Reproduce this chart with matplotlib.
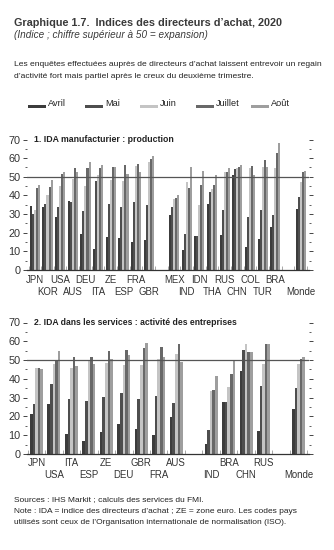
import matplotlib
matplotlib.use("Agg")
import matplotlib.pyplot as plt
from matplotlib.patches import Rectangle
from matplotlib.transforms import blended_transform_factory

plt.rcParams["font.family"] = ["Liberation Sans", "DejaVu Sans"]

months = ["Avril", "Mai", "Juin", "Juillet", "Août"]
colors = ["#3c3c3c", "#4e4e4e", "#c4c4c4", "#686868", "#9e9e9e"]

# panel 1 : manufacturing output (None = empty slot)
manuf_labels = ["JPN", "KOR", "USA", "AUS", "DEU", "ITA", "ZE", "ESP", "FRA", "GBR", None,
                "MEX", "IND", "IDN", "THA", "RUS", "CHN", "COL", "TUR", "BRA", None, "Monde"]
manuf_avr = [34.5, 34, 28.6, 37, 19.3, 11, 17.7, 17, 15, 16, None,
             29.5, 10.7, 18, 35.2, 18.6, 51, 12.5, 16.4, 23.2, None, 32.5]
manuf_mai = [30, 35.2, 34, 36.5, 31.5, 47.5, 35.2, 34, 36.3, 35, None,
             34, 19.3, 18.2, 42, 32, 54, 28.6, 32, 29.3, None, 39]
manuf_jun = [32, 40, 45, 49, 45, 51, 48.5, 48, 56, 58, None,
             38, 47, 35, 43.2, 52.5, 54.5, 54.5, 55.4, 54.5, None, 47]
manuf_jul = [44, 44.6, 51.5, 54.5, 54.5, 54.5, 55.3, 56.3, 57, 59.5, None,
             38.5, 43.8, 45.7, 45.5, 52.7, 55, 55.7, 59, 63, None, 52.5]
manuf_aou = [45.5, 48.2, 52.7, 52.5, 57.9, 56.3, 55.5, 51.4, 52.7, 61, None,
             40, 55.4, 53.2, 50.7, 54.5, 56.1, 51.2, 55.4, 68.2, None, 53.2]

# panel 2 : services business activity
serv_labels = ["JPN", "USA", "ITA", "ESP", "ZE", "DEU", "GBR", "FRA", "AUS", None,
               "IND", "BRA", "CHN", "RUS", None, "Monde"]
serv_avr = [21.3, 26.6, 10.6, 6.9, 11.9, 16, 13.3, 10.1, 19.5, None, 5.3, 27.5, 44.3, 12.2, None, 23.8]
serv_mai = [26.4, 37.4, 29.1, 28, 30.5, 32.4, 29.1, 31, 27, None, 12.8, 27.5, 55.3, 36.2, None, 35.1]
serv_jun = [45.6, 47.7, 45.6, 49.6, 48.2, 47.3, 47.3, 50.5, 53.2, None, 33.7, 35.8, 58.5, 47.9, None, 47.9]
serv_jul = [45.6, 50, 51.4, 51.8, 54.8, 55.3, 56.6, 57.1, 58.3, None, 34, 42.6, 54.1, 58.5, None, 50.4]
serv_aou = [45.2, 55, 46.8, 47.7, 50.4, 52.7, 58.9, 51.8, 49.1, None, 41.7, 49.5, 54.1, 58.3, None, 51.8]

W, H = 334, 550
fig = plt.figure(figsize=(W / 100, H / 100), dpi=100)
renderer = fig.canvas.get_renderer()


def fy(y):
    return 1 - y / H


def ftxt(x, y, s, width=None, **kw):
    kw.setdefault("va", "center")
    t = fig.text(x / W, fy(y), s, **kw)
    if width:
        # set the font so the line spans the wanted pixel width
        w = t.get_window_extent(renderer).width
        t.set_fontsize(t.get_fontsize() * width / w)
    return t


ftxt(14, 23, "Graphique 1.7.  Indices des directeurs d\u2019achat, 2020", width=268,
     fontsize=9.6, fontweight="bold", color="#3a3a3a")
ftxt(14, 35, "(Indice ; chiffre supérieur à 50 = expansion)", width=192,
     fontsize=7.6, fontstyle="italic", color="#3a3a3a")
p1 = ftxt(14, 65, "Les enquêtes effectuées auprès de directeurs d\u2019achat laissent entrevoir un regain",
          width=306, fontsize=7.2, color="#222222")
ftxt(14, 76, "d\u2019activité fort mais partiel après le creux du deuxième trimestre.",
     fontsize=p1.get_fontsize(), color="#222222")

# legend row
leg_x = [28, 85, 140, 196, 251]
for x0, lab, c in zip(leg_x, months, colors):
    fig.patches.append(Rectangle((x0 / W, fy(108)), 18 / W, 3.2 / H, transform=fig.transFigure,
                                 facecolor=c, edgecolor="none"))
    ftxt(x0 + 20, 104, lab, fontsize=6.6, color="#222222")


def panel(top, bottom, labels, series, gw, title, title_w, xlim, row1, row2):
    ax = fig.add_axes([27 / W, fy(bottom), 282 / W, (bottom - top) / H])
    n = len(labels)
    bw = gw / 5
    for j, vals in enumerate(series):
        xs = [i - gw / 2 + (j + 0.5) * bw for i in range(n) if vals[i] is not None]
        hs = [v for v in vals if v is not None]
        ax.bar(xs, hs, width=bw, color=colors[j], linewidth=0, zorder=2)
    ax.axhline(50, color="#555555", lw=0.9, zorder=3)
    ax.set_xlim(*xlim)
    ax.set_ylim(0, 70)
    for s in ["top", "right", "left"]:
        ax.spines[s].set_visible(False)
    ax.spines["bottom"].set_color("#333333")
    ax.spines["bottom"].set_linewidth(0.9)
    ax.set_xticks([i + 0.5 for i in range(-1, n)])
    ax.tick_params(axis="x", direction="in", length=3, width=0.6, color="#999999",
                   labelbottom=False)
    ax.set_yticks(range(0, 71, 10))
    ax.set_yticks(range(5, 70, 10), minor=True)
    ax.tick_params(axis="y", which="major", direction="out", length=3, width=0.7,
                   labelsize=7.8, pad=1.5, right=True, color="#444444", labelcolor="#333333")
    ax.tick_params(axis="y", which="minor", direction="out", length=1.5, width=0.6,
                   right=True, color="#444444")
    ax.set_facecolor("none")
    tr = blended_transform_factory(ax.transData, fig.transFigure)
    k = 0
    for i, lab in enumerate(labels):
        if lab is None:
            continue
        yy = row1 if k % 2 == 0 else row2
        k += 1
        ax.text(i, fy(yy), lab, transform=tr, ha="center", va="center", fontsize=6.9,
                color="#333333")
    ftxt(34, top, title, width=title_w, fontsize=7.8, fontweight="bold", color="#222222")
    return ax


panel(139.5, 270, manuf_labels, [manuf_avr, manuf_mai, manuf_jun, manuf_jul, manuf_aou],
      0.8, "1. IDA manufacturier : production", 140, (-0.62, 21.66), 280, 292)
panel(322.5, 454, serv_labels, [serv_avr, serv_mai, serv_jun, serv_jul, serv_aou],
      0.74, "2. IDA dans les services : activité des entreprises", 203, (-0.54, 15.6), 463, 475)

n1 = ftxt(14, 511.5, "Note : IDA = indice des directeurs d\u2019achat ; ZE = zone euro. Les codes pays",
          width=282, fontsize=6.9, color="#222222")
fs = n1.get_fontsize()
ftxt(14, 500, "Sources : IHS Markit ; calculs des services du FMI.", fontsize=fs, color="#222222")
ftxt(14, 523, "utilisés sont ceux de l\u2019Organisation internationale de normalisation (ISO).",
     fontsize=fs, color="#222222")

fig.savefig("out.png", dpi=100)
